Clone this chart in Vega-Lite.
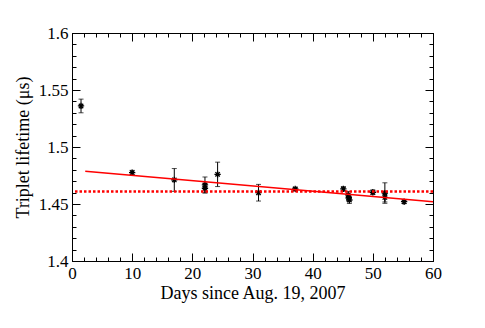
{
  "$schema": "https://vega.github.io/schema/vega-lite/v6.json",
  "width": 361,
  "height": 228,
  "autosize": "none",
  "padding": {"left": 72, "top": 33, "right": 52, "bottom": 67},
  "background": "white",
  "config": {
    "font": "Liberation Serif",
    "view": {"stroke": "black", "strokeWidth": 1},
    "axis": {
      "grid": false,
      "domainColor": "black",
      "tickColor": "black",
      "labelColor": "black",
      "titleColor": "black",
      "labelFontSize": 17,
      "titleFontSize": 18,
      "titleFontWeight": "normal",
      "labelFont": "Liberation Serif",
      "titleFont": "Liberation Serif"
    }
  },
  "datasets": {
    "points": [
      {"day": 1.5, "tau": 1.536, "err": 0.006},
      {"day": 10, "tau": 1.4775, "err": 0.002},
      {"day": 17, "tau": 1.4711, "err": 0.010},
      {"day": 22.1, "tau": 1.4667, "err": 0.007},
      {"day": 22.1, "tau": 1.4638, "err": 0.004},
      {"day": 24.2, "tau": 1.476, "err": 0.0107},
      {"day": 31, "tau": 1.4599, "err": 0.0073},
      {"day": 37.1, "tau": 1.4632, "err": 0.0015},
      {"day": 45.1, "tau": 1.4632, "err": 0.002},
      {"day": 45.9, "tau": 1.458, "err": 0.003},
      {"day": 46.0, "tau": 1.4555, "err": 0.003},
      {"day": 46.1, "tau": 1.4535, "err": 0.003},
      {"day": 50, "tau": 1.4603, "err": 0.002},
      {"day": 52, "tau": 1.4596, "err": 0.009},
      {"day": 52, "tau": 1.4558, "err": 0.004},
      {"day": 55.2, "tau": 1.452, "err": 0.0015}
    ],
    "fit": [
      {"day": 2.2, "tau": 1.4787},
      {"day": 60, "tau": 1.452}
    ],
    "mean": [
      {"day": 0.5, "tau": 1.461},
      {"day": 60, "tau": 1.461}
    ]
  },
  "layer": [
    {
      "data": {"name": "points"},
      "mark": {"type": "errorbar", "color": "black", "thickness": 1, "ticks": {"size": 5, "color": "black"}},
      "encoding": {
        "x": {
          "field": "day", "type": "quantitative",
          "scale": {"domain": [0, 60], "nice": false, "zero": false},
          "axis": {
            "orient": "bottom",
            "title": "Days since Aug. 19, 2007",
            "values": [0,2,4,6,8,10,12,14,16,18,20,22,24,26,28,30,32,34,36,38,40,42,44,46,48,50,52,54,56,58,60],
            "labelExpr": "datum.value % 10 === 0 ? datum.label : ''",
            "tickSize": {"condition": {"test": "datum.value % 10 === 0", "value": -8}, "value": -4},
            "labelPadding": 12,
            "titlePadding": 3,
            "labelFlush": false
          }
        },
        "y": {
          "field": "tau", "type": "quantitative",
          "scale": {"domain": [1.4, 1.6], "nice": false, "zero": false},
          "axis": {
            "orient": "left",
            "title": "Triplet lifetime (μs)",
            "values": [1.4,1.41,1.42,1.43,1.44,1.45,1.46,1.47,1.48,1.49,1.5,1.51,1.52,1.53,1.54,1.55,1.56,1.57,1.58,1.59,1.6],
            "labelExpr": "abs(datum.value*20 - round(datum.value*20)) < 0.001 ? format(datum.value, '~g') : ''",
            "tickSize": {"condition": {"test": "abs(datum.value*20 - round(datum.value*20)) < 0.001", "value": -8}, "value": -4},
            "labelPadding": 12,
            "titlePadding": 6,
            "labelFlush": false
          }
        },
        "yError": {"field": "err"}
      }
    },
    {
      "data": {"name": "points"},
      "mark": {"type": "point", "shape": "M-1,0L1,0M0,-1L0,1M-0.7,-0.7L0.7,0.7M-0.7,0.7L0.7,-0.7", "filled": false, "stroke": "black", "strokeWidth": 1.3, "size": 40, "opacity": 1},
      "encoding": {
        "x": {
          "field": "day", "type": "quantitative",
          "scale": {"domain": [0, 60], "nice": false, "zero": false},
          "axis": {
            "orient": "top", "title": null, "labels": false,
            "values": [0,2,4,6,8,10,12,14,16,18,20,22,24,26,28,30,32,34,36,38,40,42,44,46,48,50,52,54,56,58,60],
            "tickSize": {"condition": {"test": "datum.value % 10 === 0", "value": -8}, "value": -4}
          }
        },
        "y": {
          "field": "tau", "type": "quantitative",
          "scale": {"domain": [1.4, 1.6], "nice": false, "zero": false},
          "axis": {
            "orient": "right", "title": null, "labels": false,
            "values": [1.4,1.41,1.42,1.43,1.44,1.45,1.46,1.47,1.48,1.49,1.5,1.51,1.52,1.53,1.54,1.55,1.56,1.57,1.58,1.59,1.6],
            "tickSize": {"condition": {"test": "abs(datum.value*20 - round(datum.value*20)) < 0.001", "value": -8}, "value": -4}
          }
        }
      }
    },
    {
      "data": {"name": "fit"},
      "mark": {"type": "line", "color": "#ff0000", "strokeWidth": 1.6},
      "encoding": {
        "x": {"field": "day", "type": "quantitative", "scale": {"domain": [0, 60], "nice": false, "zero": false}, "axis": null},
        "y": {"field": "tau", "type": "quantitative", "scale": {"domain": [1.4, 1.6], "nice": false, "zero": false}, "axis": null}
      }
    },
    {
      "data": {"name": "mean"},
      "mark": {"type": "line", "color": "#ff0000", "strokeWidth": 2.5, "strokeDash": [2.5, 2]},
      "encoding": {
        "x": {"field": "day", "type": "quantitative", "scale": {"domain": [0, 60], "nice": false, "zero": false}, "axis": null},
        "y": {"field": "tau", "type": "quantitative", "scale": {"domain": [1.4, 1.6], "nice": false, "zero": false}, "axis": null}
      }
    }
  ],
  "resolve": {"axis": {"x": "independent", "y": "independent"}}
}
